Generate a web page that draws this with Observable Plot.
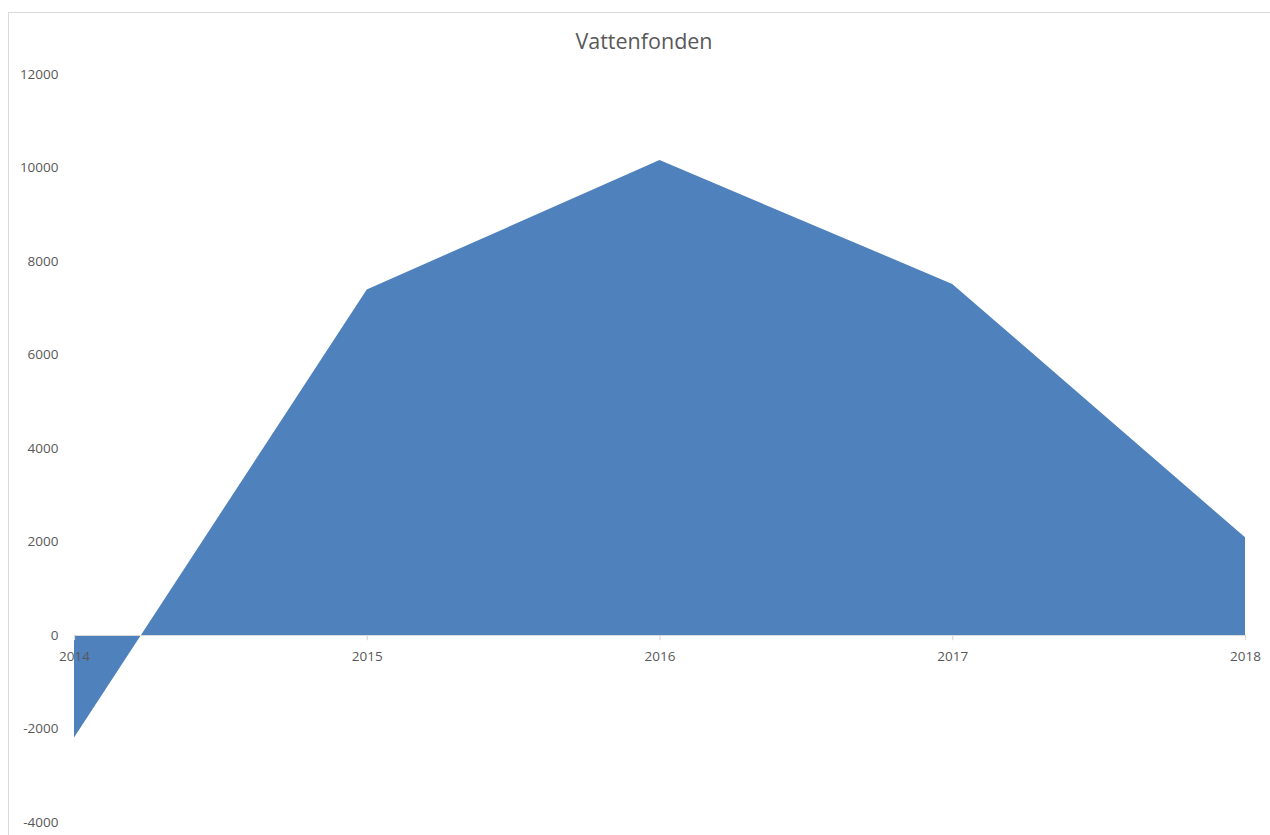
<!DOCTYPE html>
<html>
<head>
<meta charset="utf-8">
<script src="https://cdn.jsdelivr.net/npm/d3@7"></script>
<script src="https://cdn.jsdelivr.net/npm/@observablehq/plot@0.6"></script>
<style>
  html, body { margin: 0; padding: 0; background: #fff; overflow: hidden; }
  #wrap { position: relative; width: 1270px; height: 835px; }
  #frame { position: absolute; left: 8px; top: 12px; width: 1300px; height: 900px;
           border-left: 1.5px solid #d9d9d9; border-top: 1.5px solid #d9d9d9; }
  #title { position: absolute; left: 0; width: 1288px; top: 26px; text-align: center;
           font-family: "Open Sans", sans-serif; font-size: 21.5px; color: #595959; }
  #chart { position: absolute; left: 0; top: 0; }
</style>
</head>
<body>
<div id="wrap">
  <div id="frame"></div>
  <div id="chart"></div>
  <div id="title">Vattenfonden</div>
</div>
<script>
const years = [2014, 2015, 2016, 2017, 2018];
const values = [-2190, 7390, 10160, 7510, 2090];
const yTicks = [-4000, -2000, 0, 2000, 4000, 6000, 8000, 10000, 12000];

const data = years.map((year, i) => ({year, value: values[i]}));

const gray = "#595959";
const chart = Plot.plot({
  width: 1270,
  height: 835,
  marginLeft: 74,
  marginRight: 25,
  marginTop: 74,
  marginBottom: 13,
  style: {fontFamily: "Open Sans, sans-serif", fontSize: "13.5px", color: gray, background: "transparent"},
  x: {type: "linear", domain: [2014, 2018], axis: null},
  y: {domain: [-4000, 12000], ticks: yTicks, tickSize: 0, tickPadding: 16, tickFormat: d => String(d), label: null},
  marks: [
    Plot.areaY(data, {x: "year", y: "value", fill: "#4f81bd"}),
    Plot.ruleY([0], {stroke: "#d9d9d9", strokeWidth: 1.2}),
    Plot.ruleX(years, {x: d => d, y1: 0, y2: -110, stroke: "#d9d9d9", strokeWidth: 1.2}),
    Plot.text(years, {x: d => d, y: 0, text: d => String(d), dy: 21, fill: gray, fontSize: 13.5})
  ]
});
document.getElementById("chart").appendChild(chart);
</script>
</body>
</html>
